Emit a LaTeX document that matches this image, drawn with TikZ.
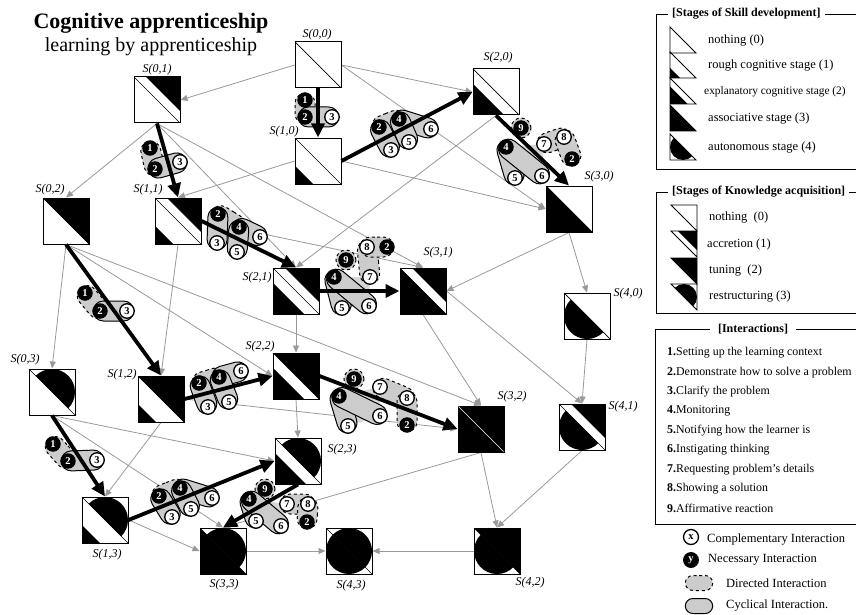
\documentclass[tikz,border=0pt]{standalone}
\usepackage{fontspec}
\setmainfont{Liberation Serif}
\usetikzlibrary{arrows.meta,calc,shapes.misc,positioning}
\pgfdeclarelayer{back}
\pgfdeclarelayer{caps}
\pgfsetlayers{back,caps,main}

\tikzset{
  stbox/.style={draw,line width=1pt,minimum size=46pt,inner sep=0pt},
  lbl/.style={font=\fontsize{12}{12}\selectfont\itshape,inner sep=1pt},
  grayarr/.style={draw=black!40,line width=0.8pt,-{Triangle[length=7pt,width=6pt]}},
  mainarr/.style={line width=3.8pt,-{Triangle[length=14pt,width=13pt]}},
  nb/.style={circle,draw,fill=black,text=white,line width=0.9pt,inner sep=0pt,
    minimum size=14.5pt,font=\fontsize{10.5}{10.5}\selectfont\bfseries},
  cb/.style={nb,fill=white,text=black,line width=1.3pt},
  cycc/.style={rounded rectangle,draw,line width=1pt,fill=black!20,minimum height=20pt},
  dirc/.style={cycc,dashed},
  dring/.style={circle,draw,dashed,line width=1pt,fill=black!20,minimum size=20pt},
  txt/.style={font=\fontsize{12.5}{12.5}\selectfont,anchor=west,inner sep=0pt},
  ttl/.style={font=\fontsize{12}{12}\selectfont\bfseries,fill=white,inner sep=4pt},
}

\newcommand{\skillpart}[1]{\ifcase#1\relax
  \or \fill (-23,23) -- (-23,5) -- (-5,23) -- cycle;
  \or \fill (-23,23) -- (-23,-8) -- (8,23) -- cycle;
  \or \fill (-23,-23) -- (-23,23) -- (23,23) -- cycle;
  \or \begin{scope}\clip (-23,-23) -- (-23,23) -- (23,23) -- cycle;
      \fill (0,0) circle[radius=23pt];\end{scope}
  \fi}
\newcommand{\knowpart}[1]{\ifcase#1\relax
  \or \fill (23,-23) -- (-11,-23) -- (23,11) -- cycle;
  \or \fill (-23,-23) -- (23,-23) -- (23,23) -- cycle;
  \or \begin{scope}\clip (-23,-23) -- (23,-23) -- (23,23) -- cycle;
      \fill (0,0) circle[radius=23pt];\end{scope}
  \fi}
\newcommand{\stnode}[5]{%
  \begin{scope}[shift={(#2,#3)}]
    \skillpart{#4}\knowpart{#5}
    \draw[line width=0.7pt] (-23,-23) -- (23,23);
  \end{scope}
  \node[stbox] (#1) at (#2,#3) {};}
\newcommand{\capsl}[3]{\path let \p1=($(#3)-(#2)$), \n1={atan2(\y1,\x1)},
  \n2={veclen(\x1,\y1)} in node[#1,minimum width=\n2+20pt,rotate=\n1]
  (k#2#3) at ($(#2)!0.5!(#3)$) {};}
\newcommand{\grpA}[4]{%
  \node[nb] (#1x1) at (#2) {1};
  \node[nb] (#1x2) at (#3) {2};
  \node[cb] (#1x3) at (#4) {3};
  \begin{pgfonlayer}{caps}
    \capsl{dirc}{#1x1}{#1x2}\capsl{cycc}{#1x2}{#1x3}
  \end{pgfonlayer}}
\newcommand{\grpB}[6]{%
  \node[nb] (#1x2) at (#2) {2};
  \node[nb] (#1x4) at (#3) {4};
  \node[cb] (#1x6) at (#4) {6};
  \node[cb] (#1x3) at (#5) {3};
  \node[cb] (#1x5) at (#6) {5};
  \begin{pgfonlayer}{caps}
    \capsl{dirc}{#1x2}{#1x4}\capsl{cycc}{#1x4}{#1x6}
    \capsl{cycc}{#1x2}{#1x3}\capsl{cycc}{#1x4}{#1x5}
  \end{pgfonlayer}}
\newcommand{\grpC}[8]{%
  \node[nb] (#1x9) at (#2) {9};
  \node[nb] (#1x4) at (#3) {4};
  \node[cb] (#1x5) at (#4) {5};
  \node[cb] (#1x6) at (#5) {6};
  \node[cb] (#1x7) at (#6) {7};
  \node[cb] (#1x8) at (#7) {8};
  \node[nb] (#1x2) at (#8) {2};
  \begin{pgfonlayer}{caps}
    \fill[black!16] (#1x4.center) -- (#1x5.center) -- (#1x6.center) -- (#1x7.center) -- cycle;
    \node[dring] (#1r9) at (#2) {};
    \capsl{dirc}{#1x8}{#1x7}\capsl{dirc}{#1x8}{#1x2}
    \capsl{cycc}{#1x4}{#1x5}\capsl{cycc}{#1x4}{#1x6}
  \end{pgfonlayer}}

\begin{document}
\begin{tikzpicture}[x=1pt,y=-1pt]
  \useasboundingbox (0,0) rectangle (856,615);
  \node[font=\fontsize{22}{22}\selectfont\bfseries] (title) at (151,23) {Cognitive apprenticeship};
  \node[font=\fontsize{20}{20}\selectfont] (subtitle) at (151,47) {learning by apprenticeship};

  \foreach \s/\k/\x/\y in {0/0/318/65,0/1/157/100,0/2/66/221,0/3/52/392,
      1/0/318/161,1/1/178/221,1/2/161/399,1/3/105/520,
      2/0/496/92,2/1/296/291,2/2/296/376,2/3/298/461,
      3/0/569/209,3/1/423/291,3/2/481/429,3/3/223/551,
      4/0/587/316,4/1/582/427,4/2/497/551,4/3/349/551}
    \stnode{S\s\k}{\x}{\y}{\s}{\k};
  \draw[white,line width=0.7pt] (458.5,406.5) -- (503.5,451.5);

  \foreach \s/\k/\x/\y in {0/0/317/35,0/1/157/70,1/0/284/132,0/2/50/190,1/1/148/190,
      2/0/498/58,2/1/257/278,3/0/599/177,3/1/438/253,4/0/628/294,0/3/25/360,
      1/2/122/375,2/2/260/347,2/3/342/450,1/3/107/555,3/3/224/585,4/3/351/586,
      3/2/512/397,4/1/623/407,4/2/530/583}
    \node[lbl] (l\s\k) at (\x,\y) {S(\s,\k)};

  \begin{pgfonlayer}{back}
  \foreach \a/\b in {S00.west/S01.east,S00.east/S20.west,S00.east/S30.west,
      S10.east/S30.west,S10.west/S11.north,S20.south/S21.north,S30.south/S31.east,
      S30.south/S40.north,S01.south/S02.north,S01.south/S21.north,S01.south/S31.north,
      S11.east/S31.north,S11.south/S12.north,S21.south/S22.north,S31.south/S32.north,
      S31.east/S41.north,S40.south/S41.north,S02.south/S03.north,S02.south/S22.west,
      S02.south/S32.north,S12.east/S32.west,S12.south/S13.north,S22.south/S23.north,
      S32.south/S33.north,S32.south/S42.north,S41.south/S42.north,S03.south/S23.west,
      S03.south/S33.north,S13.east/S33.west,S33.east/S43.west,S42.west/S43.east}
    \draw[grayarr] (\a) -- (\b);
  \end{pgfonlayer}

  \foreach \a/\b in {S00.south/S10.north,S10.east/S20.west,S20.south/S30.north,
      S01.south/S11.north,S11.east/S21.north,S21.east/S31.west,
      S02.south/S12.north,S12.east/S22.west,S22.east/S32.west,
      S03.south/S13.north,S13.east/S23.west,S23.south/S33.north}
    \draw[mainarr] (\a) -- (\b);

  \grpA{Aa}{305,100}{305,117}{332,117}
  \grpA{Ab}{150,148}{155,169}{180,162}
  \grpA{Ac}{85,293}{100,311}{127,311}
  \grpA{Ad}{53,444}{68,461}{97,460}
  \grpB{Ba}{379,127}{399,119}{431,129}{391,150}{409,142}
  \grpB{Bb}{218,214}{239,227}{260,237}{217,243}{237,252}
  \grpB{Bc}{199,383}{219,377}{241,371}{208,407}{229,402}
  \grpB{Bd}{159,496}{180,488}{212,498}{172,517}{191,509}
  \grpC{Ca}{521,128}{506,147}{515,178}{542,176}{544,144}{564,137}{572,159}
  \grpC{Cb}{346,260}{334,277}{342,308}{369,306}{370,277}{367,247}{387,247}
  \grpC{Cc}{354,379}{339,396}{348,426}{380,416}{380,387}{407,398}{407,425}
  \grpC{Cd}{265,489}{249,499}{256,521}{281,526}{287,504}{308,504}{307,522}

  % legend
  \draw[line width=0.8pt] (656,14) rectangle (870,169);
  \node[ttl,anchor=west] (tskill) at (668,14) {[Stages of Skill development]};
  \foreach \k/\y/\x/\t in {0/40/708/nothing (0),1/65/708/rough cognitive stage (1),
      2/91/704/{\fontsize{11.4}{11.4}\selectfont explanatory cognitive stage (2)},
      3/118/708/associative stage (3),4/147/708/autonomous stage (4)} {
    \begin{scope}[shift={(683,\y)},scale=0.565]
      \skillpart{\k}
      \draw[line width=0.9pt] (-23,-23) -- (-23,23) -- (23,23) -- cycle;
    \end{scope}
    \node[txt] (sk\k) at (\x,\y+1) {\t};
  }
  \draw[line width=0.8pt] (656,192) rectangle (870,313);
  \node[ttl,anchor=west] (tknow) at (668,192) {[Stages of Knowledge acquisition]};
  \foreach \k/\y/\x/\t in {0/218/709/nothing\ \ (0),1/244/707/accretion (1),
      2/271/709/tuning\ \ (2),3/297/709/restructuring (3)} {
    \begin{scope}[shift={(684,\y)},scale=0.565]
      \knowpart{\k}
      \draw[line width=0.9pt] (-23,-23) -- (23,-23) -- (23,23) -- cycle;
    \end{scope}
    \node[txt] (kn\k) at (\x,\y) {\t};
  }
  \draw[line width=0.8pt] (655,329) rectangle (870,524);
  \node[ttl,inner xsep=8pt] (tinter) at (753,329) {[Interactions]};
  \foreach \t [count=\i] in {Setting up the learning context,Demonstrate how to solve a problem,
      Clarify the problem,Monitoring,Notifying how the learner is,Instigating thinking,
      Requesting problem's details,Showing a solution,Affirmative reaction}
    \node[txt,font=\fontsize{11.9}{11.9}\selectfont] (it\i) at (667,{353+(\i-1)*19.4}) {\textbf{\i.}\t};

  \node[cb,minimum size=15pt] (keyx) at (691,537) {x};
  \node[txt] (keyxt) at (707,540) {Complementary Interaction};
  \node[nb,minimum size=15pt] (keyy) at (691,560) {y};
  \node[txt] (keyyt) at (708,560) {Necessary Interaction};
  \node[dirc,minimum width=34pt,minimum height=15pt] (keyd) at (699,583) {};
  \node[txt] (keydt) at (726,583) {Directed Interaction};
  \node[cycc,minimum width=34pt,minimum height=15pt] (keyc) at (699,606) {};
  \node[txt] (keyct) at (726,606) {Cyclical Interaction.};
\end{tikzpicture}
\end{document}
